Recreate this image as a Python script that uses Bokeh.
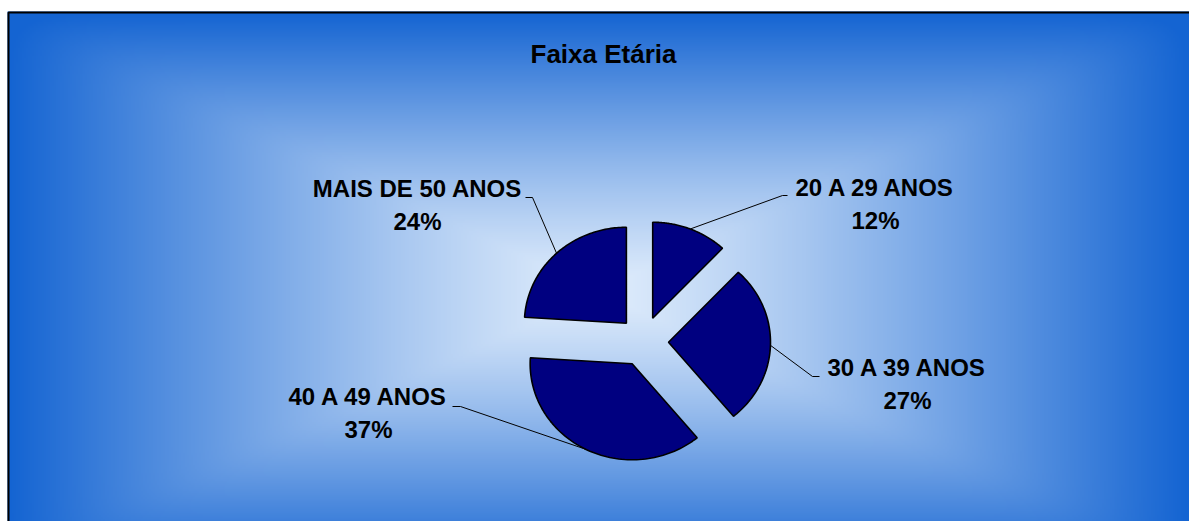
import numpy as np
from bokeh.plotting import figure
from bokeh.models import Range1d, ColumnDataSource
from bokeh.core.properties import value
from bokeh.embed import file_html
from bokeh.resources import INLINE

# ---------------- data ----------------
chart_title = "Faixa Etária"
categories = ["20 A 29 ANOS", "30 A 39 ANOS", "40 A 49 ANOS", "MAIS DE 50 ANOS"]
percents = [12, 27, 37, 24]

# ---------------- layout (screen pixels) ----------------
W, H = 1189, 521
FRAME = (7, 11, 1189, 571)          # left, top, right, bottom of chart area (bottom off-screen)
CX, CY = 643, 341                    # pie centre
RX, RY = 102, 96                     # pie radii
EXPLODE = 25
label_pos = [(875, 187), (907, 367), (368, 396), (417, 188)]   # centre x, first baseline
LINE_GAP = 32.5
leader_elbow = [(782, 195), (812, 376), (460, 406), (532, 197)]
leader_end = [(787, 195), (819, 376), (452, 406), (525, 197)]

p = figure(width=W, height=H, x_range=Range1d(0, W), y_range=Range1d(H, 0),
           output_backend="svg", toolbar_location=None, min_border=0)
p.axis.visible = False
p.grid.visible = False
p.outline_line_color = None
p.background_fill_color = "white"
p.border_fill_color = "white"

# ---------------- background gradient (rectangular, from centre) ----------------
fl, ft, fr, fb = FRAME
nx, ny = 595, 281
gx = np.linspace(-1, 1, nx)
gy = np.linspace(-1, 1, ny)
GX, GY = np.meshgrid(gx, gy)
t = (np.abs(GX) ** 20 + np.abs(GY) ** 20) ** 0.05
light = np.array([224, 237, 252], dtype=float)
dark = np.array([20, 100, 210], dtype=float)
s = np.clip(t, 0, 1) ** 1.2
cols = light[None, None, :] * (1 - s[..., None]) + dark[None, None, :] * s[..., None]
img = np.zeros((ny, nx), dtype=np.uint32)
view = img.view(dtype=np.uint8).reshape((ny, nx, 4))
view[..., 0] = cols[..., 0].astype(np.uint8)
view[..., 1] = cols[..., 1].astype(np.uint8)
view[..., 2] = cols[..., 2].astype(np.uint8)
view[..., 3] = 255
p.image_rgba(image=[img], x=fl, y=ft, dw=fr - fl, dh=fb - ft)

# frame border
p.quad(left=[fl + 1], right=[fr + 20], top=[ft + 1], bottom=[fb + 20],
       fill_alpha=0, line_color="black", line_width=2)

# ---------------- pie slices ----------------
total = float(sum(percents))
start = 0.0
xs, ys, mids = [], [], []
for v in percents:
    a0 = start
    a1 = start + v / total * 2 * np.pi
    mid = (a0 + a1) / 2
    ox = CX + EXPLODE * np.sin(mid)
    oy = CY - EXPLODE * np.cos(mid)
    ang = np.linspace(a0, a1, 80)
    px = [ox] + list(ox + RX * np.sin(ang)) + [ox]
    py = [oy] + list(oy - RY * np.cos(ang)) + [oy]
    xs.append(px)
    ys.append(py)
    mids.append((ox + RX * np.sin(mid), oy - RY * np.cos(mid)))
    start = a1

p.patches(xs=xs, ys=ys, fill_color="#000080", line_color="black", line_width=1.6)

# ---------------- leader lines ----------------
lx, ly = [], []
for (mx, my), (ex, ey), (tx, ty) in zip(mids, leader_elbow, leader_end):
    lx.append([mx, ex, tx])
    ly.append([my, ey, ty])
p.multi_line(xs=lx, ys=ly, line_color="black", line_width=1)

# ---------------- labels ----------------
src = ColumnDataSource(dict(
    x=[lp[0] for lp in label_pos] * 2,
    y=[lp[1] for lp in label_pos] + [lp[1] + LINE_GAP for lp in label_pos],
    text=categories + [f"{v}%" for v in percents],
))
p.text(x="x", y="y", text="text", source=src, text_align="center", text_baseline="alphabetic",
       text_font=value("Liberation Sans"), text_font_style="bold", text_font_size="24px",
       text_color="black")

# title
p.text(x=[603], y=[53], text=[chart_title], text_align="center", text_baseline="alphabetic",
       text_font=value("Liberation Sans"), text_font_style="bold", text_font_size="26px",
       text_color="black")

open("out.html", "w").write(file_html(p, INLINE))
